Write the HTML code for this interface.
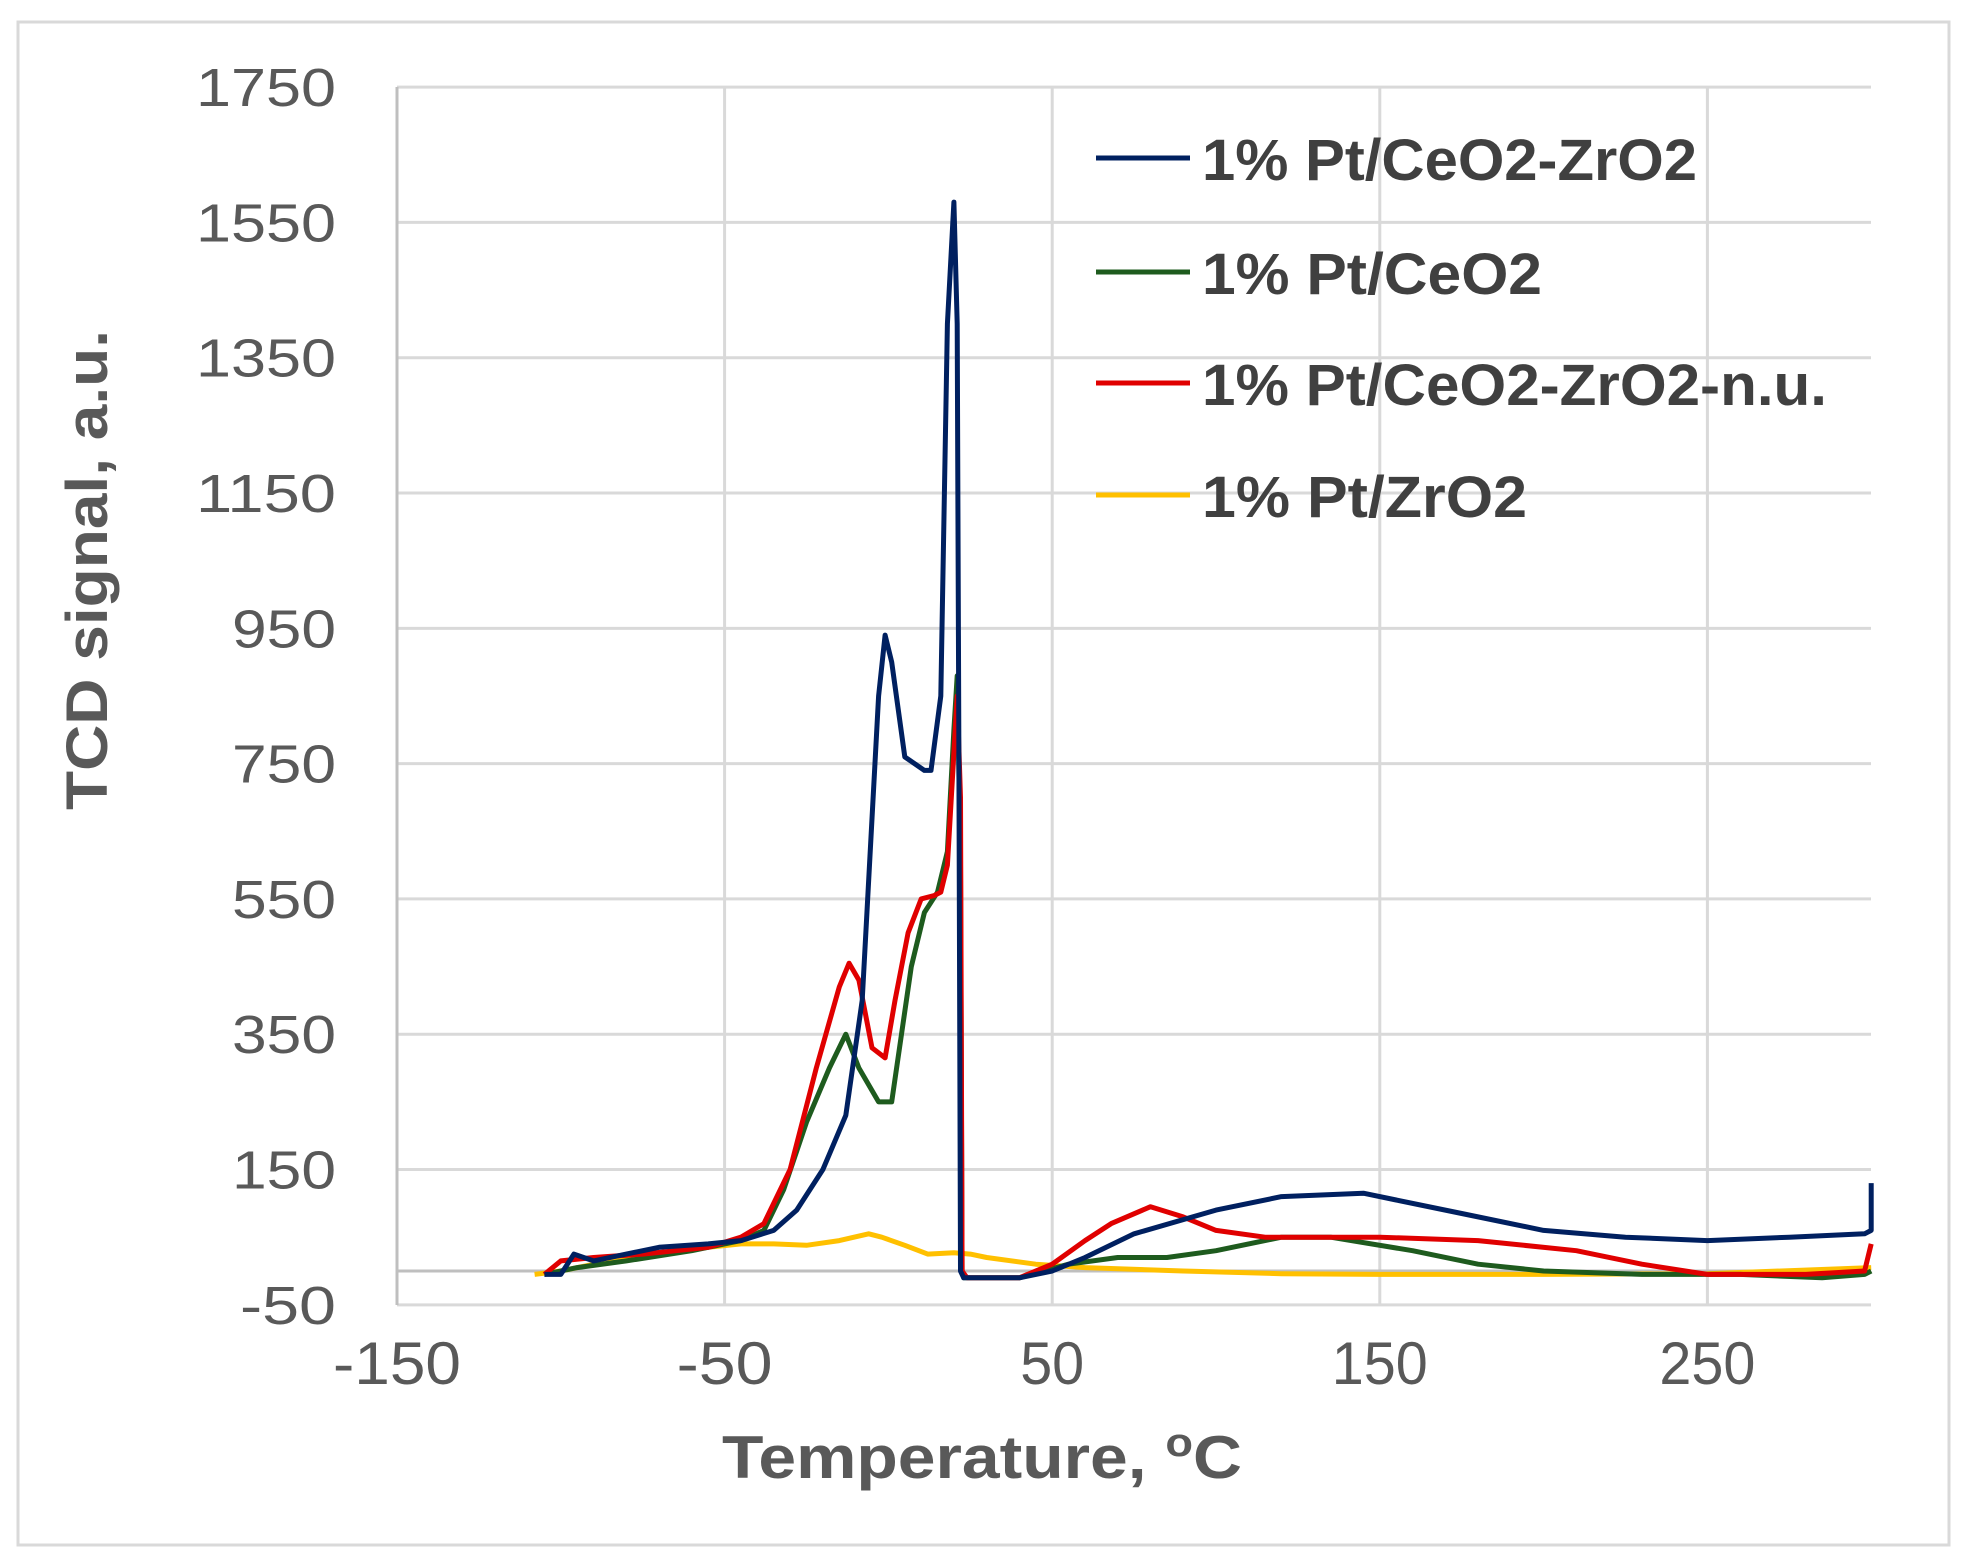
<!DOCTYPE html>
<html><head><meta charset="utf-8"><style>
html,body{margin:0;padding:0;background:#fff}
svg{display:block}
text{font-family:"Liberation Sans",sans-serif;fill:#595959}
</style></head><body>
<svg id="s" width="1968" height="1564" viewBox="0 0 1968 1564" xmlns="http://www.w3.org/2000/svg">
<rect x="18" y="22" width="1931" height="1523" fill="#fff" stroke="#d9d9d9" stroke-width="3"/>
<g id="grid" stroke="#d9d9d9" stroke-width="3"></g>
<g id="lbl" font-size="54"></g>
<g id="ser" fill="none" stroke-width="5" stroke-linejoin="round"></g>
<text x="107" y="570" font-size="58" font-weight="bold" text-anchor="middle" transform="rotate(-90 107 570)" textLength="480" lengthAdjust="spacingAndGlyphs" style="fill:#595959">TCD signal, a.u.</text>
<text x="722" y="1478" font-size="60" font-weight="bold" textLength="520" lengthAdjust="spacingAndGlyphs" style="fill:#595959">Temperature, <tspan font-size="40" dy="-22">o</tspan><tspan dy="22">C</tspan></text>
<g font-size="58" font-weight="bold">
<line x1="1096" y1="158" x2="1190" y2="158" stroke="#002060" stroke-width="5"/>
<text x="1202" y="180" textLength="495" lengthAdjust="spacingAndGlyphs" style="fill:#404040">1% Pt/CeO2-ZrO2</text>
<line x1="1096" y1="272" x2="1190" y2="272" stroke="#1e5b1e" stroke-width="5"/>
<text x="1202" y="294" textLength="340" lengthAdjust="spacingAndGlyphs" style="fill:#404040">1% Pt/CeO2</text>
<line x1="1096" y1="383" x2="1190" y2="383" stroke="#e00000" stroke-width="5"/>
<text x="1202" y="405" textLength="625" lengthAdjust="spacingAndGlyphs" style="fill:#404040">1% Pt/CeO2-ZrO2-n.u.</text>
<line x1="1096" y1="495" x2="1190" y2="495" stroke="#ffc000" stroke-width="5"/>
<text x="1202" y="517" textLength="325" lengthAdjust="spacingAndGlyphs" style="fill:#404040">1% Pt/ZrO2</text>
</g>
</svg>
<script>
var NS="http://www.w3.org/2000/svg";
function X(t){return 397+(t+150)*3.276}
function Y(v){return 1271-v*0.6765}
function el(n,a,p,txt){var e=document.createElementNS(NS,n);for(var k in a)e.setAttribute(k,a[k]);if(txt!=null)e.textContent=txt;p.appendChild(e);return e}
var g=document.getElementById('grid'),l=document.getElementById('lbl'),s=document.getElementById('ser');
for(var v=-50;v<=1750;v+=200){var y=Y(v);el('line',{x1:397,y1:y,x2:1871,y2:y},g);el('text',{x:336,y:y+19,'text-anchor':'end',textLength:v<0?96:(v>=1000?140:104),lengthAdjust:'spacingAndGlyphs'},l,v);}
for(var t=-150;t<=250;t+=100){var x=X(t);el('line',{x1:x,y1:87,x2:x,y2:1305},g);var w=String(t).length*32;el('text',{x:x,y:1384,'text-anchor':'middle','font-size':60,textLength:w,lengthAdjust:'spacingAndGlyphs'},l,t);}
el('line',{x1:397,y1:Y(0),x2:1871,y2:Y(0),stroke:'#bfbfbf'},g);
el('line',{x1:397,y1:87,x2:397,y2:1305,stroke:'#bfbfbf'},g);
var D={
'#ffc000':[[-108,-5],[-100,0],[-85,15],[-70,25],[-55,35],[-45,40],[-35,40],[-25,38],[-15,45],[-6,55],[-2,50],[5,38],[12,25],[20,27],[25,25],[30,20],[45,10],[60,5],[90,0],[120,-4],[150,-5],[200,-5],[250,-4],[300,5]],
'#1e5b1e':[[-105,-5],[-95,5],[-80,15],[-60,30],[-45,45],[-38,60],[-32,120],[-25,220],[-18,300],[-13,350],[-9,300],[-3,250],[1,250],[4,350],[7,450],[11,530],[15,560],[18,620],[20,800],[21,880],[22,600],[22.5,0],[23,-10],[40,-10],[55,10],[70,20],[85,20],[100,30],[120,50],[135,50],[160,30],[180,10],[200,0],[230,-5],[260,-5],[285,-10],[298,-5],[300,0]],
'#e00000':[[-105,-5],[-100,15],[-90,20],[-75,25],[-55,35],[-45,50],[-38,70],[-30,150],[-22,300],[-15,420],[-12,455],[-9,430],[-5,330],[-1,315],[2,400],[6,500],[10,550],[14,555],[16,560],[18,600],[21,850],[22,700],[22.5,0],[24,-10],[40,-10],[50,10],[60,45],[68,70],[80,95],[90,80],[100,60],[115,50],[150,50],[180,45],[210,30],[230,10],[250,-5],[280,-5],[298,0],[300,40]],
'#002060':[[-105,-5],[-100,-5],[-96,25],[-93,20],[-90,15],[-80,25],[-70,35],[-55,40],[-45,45],[-35,60],[-28,90],[-20,150],[-13,230],[-8,400],[-3,850],[-1,940],[1,900],[5,760],[11,740],[13,740],[16,850],[18,1400],[20,1580],[21,1400],[21.5,800],[22,0],[23,-10],[40,-10],[50,0],[60,20],[75,55],[100,90],[120,110],[145,115],[155,105],[175,85],[200,60],[225,50],[250,45],[275,50],[298,55],[300,60],[300,130]]};
['#ffc000','#1e5b1e','#e00000','#002060'].forEach(function(c){el('polyline',{points:D[c].map(function(p){return X(p[0]).toFixed(1)+','+Y(p[1]).toFixed(1)}).join(' '),stroke:c},s)});
</script>
</body></html>
